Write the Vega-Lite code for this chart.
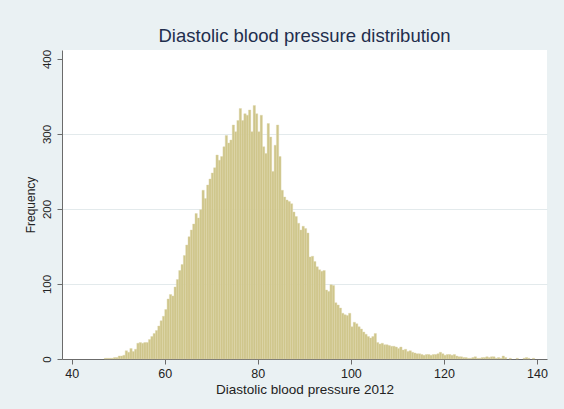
{
  "$schema": "https://vega.github.io/schema/vega-lite/v6.json",
  "width": 485,
  "height": 309,
  "autosize": {"type": "none"},
  "padding": {"left": 62, "top": 50, "right": 17, "bottom": 50},
  "background": "#EAF1F3",
  "title": {
    "text": "Diastolic blood pressure distribution",
    "font": "Liberation Sans",
    "fontSize": 18.5,
    "fontWeight": "normal",
    "color": "#1F2E4D",
    "anchor": "middle",
    "offset": 4
  },
  "config": {
    "view": {"fill": "white", "stroke": null},
    "axis": {
      "labelFont": "Liberation Sans",
      "titleFont": "Liberation Sans",
      "labelFontSize": 12.5,
      "titleFontSize": 13.5,
      "titleFontWeight": "normal",
      "labelColor": "#222222",
      "titleColor": "#222222",
      "domainColor": "#6B6B6B",
      "tickColor": "#6B6B6B",
      "tickSize": 5,
      "labelFlush": false
    }
  },
  "data": {
    "values": [
      {"bin_start": 47.0, "bin_end": 47.5, "count": 1},
      {"bin_start": 47.5, "bin_end": 48.0, "count": 1},
      {"bin_start": 48.0, "bin_end": 48.5, "count": 1},
      {"bin_start": 48.5, "bin_end": 49.0, "count": 1},
      {"bin_start": 49.0, "bin_end": 49.5, "count": 2},
      {"bin_start": 49.5, "bin_end": 50.0, "count": 2},
      {"bin_start": 50.0, "bin_end": 50.5, "count": 4},
      {"bin_start": 50.5, "bin_end": 51.0, "count": 4},
      {"bin_start": 51.0, "bin_end": 51.5, "count": 5},
      {"bin_start": 51.5, "bin_end": 52.0, "count": 11},
      {"bin_start": 52.0, "bin_end": 52.5, "count": 9},
      {"bin_start": 52.5, "bin_end": 53.0, "count": 14},
      {"bin_start": 53.0, "bin_end": 53.5, "count": 10},
      {"bin_start": 53.5, "bin_end": 54.0, "count": 13},
      {"bin_start": 54.0, "bin_end": 54.5, "count": 21},
      {"bin_start": 54.5, "bin_end": 55.0, "count": 22},
      {"bin_start": 55.0, "bin_end": 55.5, "count": 21},
      {"bin_start": 55.5, "bin_end": 56.0, "count": 22},
      {"bin_start": 56.0, "bin_end": 56.5, "count": 22},
      {"bin_start": 56.5, "bin_end": 57.0, "count": 26},
      {"bin_start": 57.0, "bin_end": 57.5, "count": 30},
      {"bin_start": 57.5, "bin_end": 58.0, "count": 34},
      {"bin_start": 58.0, "bin_end": 58.5, "count": 38},
      {"bin_start": 58.5, "bin_end": 59.0, "count": 44},
      {"bin_start": 59.0, "bin_end": 59.5, "count": 51},
      {"bin_start": 59.5, "bin_end": 60.0, "count": 57},
      {"bin_start": 60.0, "bin_end": 60.5, "count": 66},
      {"bin_start": 60.5, "bin_end": 61.0, "count": 80},
      {"bin_start": 61.0, "bin_end": 61.5, "count": 86},
      {"bin_start": 61.5, "bin_end": 62.0, "count": 84},
      {"bin_start": 62.0, "bin_end": 62.5, "count": 96},
      {"bin_start": 62.5, "bin_end": 63.0, "count": 106},
      {"bin_start": 63.0, "bin_end": 63.5, "count": 118},
      {"bin_start": 63.5, "bin_end": 64.0, "count": 126},
      {"bin_start": 64.0, "bin_end": 64.5, "count": 138},
      {"bin_start": 64.5, "bin_end": 65.0, "count": 152},
      {"bin_start": 65.0, "bin_end": 65.5, "count": 163},
      {"bin_start": 65.5, "bin_end": 66.0, "count": 172},
      {"bin_start": 66.0, "bin_end": 66.5, "count": 180},
      {"bin_start": 66.5, "bin_end": 67.0, "count": 194},
      {"bin_start": 67.0, "bin_end": 67.5, "count": 188},
      {"bin_start": 67.5, "bin_end": 68.0, "count": 199},
      {"bin_start": 68.0, "bin_end": 68.5, "count": 225},
      {"bin_start": 68.5, "bin_end": 69.0, "count": 214},
      {"bin_start": 69.0, "bin_end": 69.5, "count": 232},
      {"bin_start": 69.5, "bin_end": 70.0, "count": 240},
      {"bin_start": 70.0, "bin_end": 70.5, "count": 248},
      {"bin_start": 70.5, "bin_end": 71.0, "count": 255},
      {"bin_start": 71.0, "bin_end": 71.5, "count": 272},
      {"bin_start": 71.5, "bin_end": 72.0, "count": 265},
      {"bin_start": 72.0, "bin_end": 72.5, "count": 270},
      {"bin_start": 72.5, "bin_end": 73.0, "count": 283},
      {"bin_start": 73.0, "bin_end": 73.5, "count": 298},
      {"bin_start": 73.5, "bin_end": 74.0, "count": 288},
      {"bin_start": 74.0, "bin_end": 74.5, "count": 292},
      {"bin_start": 74.5, "bin_end": 75.0, "count": 312},
      {"bin_start": 75.0, "bin_end": 75.5, "count": 303},
      {"bin_start": 75.5, "bin_end": 76.0, "count": 318},
      {"bin_start": 76.0, "bin_end": 76.5, "count": 334},
      {"bin_start": 76.5, "bin_end": 77.0, "count": 318},
      {"bin_start": 77.0, "bin_end": 77.5, "count": 327},
      {"bin_start": 77.5, "bin_end": 78.0, "count": 325},
      {"bin_start": 78.0, "bin_end": 78.5, "count": 332},
      {"bin_start": 78.5, "bin_end": 79.0, "count": 303},
      {"bin_start": 79.0, "bin_end": 79.5, "count": 338},
      {"bin_start": 79.5, "bin_end": 80.0, "count": 327},
      {"bin_start": 80.0, "bin_end": 80.5, "count": 303},
      {"bin_start": 80.5, "bin_end": 81.0, "count": 325},
      {"bin_start": 81.0, "bin_end": 81.5, "count": 283},
      {"bin_start": 81.5, "bin_end": 82.0, "count": 274},
      {"bin_start": 82.0, "bin_end": 82.5, "count": 314},
      {"bin_start": 82.5, "bin_end": 83.0, "count": 296},
      {"bin_start": 83.0, "bin_end": 83.5, "count": 250},
      {"bin_start": 83.5, "bin_end": 84.0, "count": 285},
      {"bin_start": 84.0, "bin_end": 84.5, "count": 312},
      {"bin_start": 84.5, "bin_end": 85.0, "count": 270},
      {"bin_start": 85.0, "bin_end": 85.5, "count": 225},
      {"bin_start": 85.5, "bin_end": 86.0, "count": 216},
      {"bin_start": 86.0, "bin_end": 86.5, "count": 212},
      {"bin_start": 86.5, "bin_end": 87.0, "count": 210},
      {"bin_start": 87.0, "bin_end": 87.5, "count": 207},
      {"bin_start": 87.5, "bin_end": 88.0, "count": 196},
      {"bin_start": 88.0, "bin_end": 88.5, "count": 190},
      {"bin_start": 88.5, "bin_end": 89.0, "count": 181},
      {"bin_start": 89.0, "bin_end": 89.5, "count": 172},
      {"bin_start": 89.5, "bin_end": 90.0, "count": 177},
      {"bin_start": 90.0, "bin_end": 90.5, "count": 174},
      {"bin_start": 90.5, "bin_end": 91.0, "count": 168},
      {"bin_start": 91.0, "bin_end": 91.5, "count": 136},
      {"bin_start": 91.5, "bin_end": 92.0, "count": 137},
      {"bin_start": 92.0, "bin_end": 92.5, "count": 130},
      {"bin_start": 92.5, "bin_end": 93.0, "count": 123},
      {"bin_start": 93.0, "bin_end": 93.5, "count": 119},
      {"bin_start": 93.5, "bin_end": 94.0, "count": 117},
      {"bin_start": 94.0, "bin_end": 94.5, "count": 118},
      {"bin_start": 94.5, "bin_end": 95.0, "count": 92},
      {"bin_start": 95.0, "bin_end": 95.5, "count": 90},
      {"bin_start": 95.5, "bin_end": 96.0, "count": 99},
      {"bin_start": 96.0, "bin_end": 96.5, "count": 98},
      {"bin_start": 96.5, "bin_end": 97.0, "count": 75},
      {"bin_start": 97.0, "bin_end": 97.5, "count": 72},
      {"bin_start": 97.5, "bin_end": 98.0, "count": 68},
      {"bin_start": 98.0, "bin_end": 98.5, "count": 61},
      {"bin_start": 98.5, "bin_end": 99.0, "count": 59},
      {"bin_start": 99.0, "bin_end": 99.5, "count": 58},
      {"bin_start": 99.5, "bin_end": 100.0, "count": 61},
      {"bin_start": 100.0, "bin_end": 100.5, "count": 43},
      {"bin_start": 100.5, "bin_end": 101.0, "count": 49},
      {"bin_start": 101.0, "bin_end": 101.5, "count": 47},
      {"bin_start": 101.5, "bin_end": 102.0, "count": 43},
      {"bin_start": 102.0, "bin_end": 102.5, "count": 40},
      {"bin_start": 102.5, "bin_end": 103.0, "count": 36},
      {"bin_start": 103.0, "bin_end": 103.5, "count": 33},
      {"bin_start": 103.5, "bin_end": 104.0, "count": 30},
      {"bin_start": 104.0, "bin_end": 104.5, "count": 28},
      {"bin_start": 104.5, "bin_end": 105.0, "count": 30},
      {"bin_start": 105.0, "bin_end": 105.5, "count": 34},
      {"bin_start": 105.5, "bin_end": 106.0, "count": 22},
      {"bin_start": 106.0, "bin_end": 106.5, "count": 20},
      {"bin_start": 106.5, "bin_end": 107.0, "count": 21},
      {"bin_start": 107.0, "bin_end": 107.5, "count": 19},
      {"bin_start": 107.5, "bin_end": 108.0, "count": 19},
      {"bin_start": 108.0, "bin_end": 108.5, "count": 18},
      {"bin_start": 108.5, "bin_end": 109.0, "count": 17},
      {"bin_start": 109.0, "bin_end": 109.5, "count": 17},
      {"bin_start": 109.5, "bin_end": 110.0, "count": 16},
      {"bin_start": 110.0, "bin_end": 110.5, "count": 14},
      {"bin_start": 110.5, "bin_end": 111.0, "count": 16},
      {"bin_start": 111.0, "bin_end": 111.5, "count": 12},
      {"bin_start": 111.5, "bin_end": 112.0, "count": 13},
      {"bin_start": 112.0, "bin_end": 112.5, "count": 10},
      {"bin_start": 112.5, "bin_end": 113.0, "count": 11},
      {"bin_start": 113.0, "bin_end": 113.5, "count": 9},
      {"bin_start": 113.5, "bin_end": 114.0, "count": 8},
      {"bin_start": 114.0, "bin_end": 114.5, "count": 7},
      {"bin_start": 114.5, "bin_end": 115.0, "count": 7},
      {"bin_start": 115.0, "bin_end": 115.5, "count": 6},
      {"bin_start": 115.5, "bin_end": 116.0, "count": 5},
      {"bin_start": 116.0, "bin_end": 116.5, "count": 6},
      {"bin_start": 116.5, "bin_end": 117.0, "count": 6},
      {"bin_start": 117.0, "bin_end": 117.5, "count": 5},
      {"bin_start": 117.5, "bin_end": 118.0, "count": 6},
      {"bin_start": 118.0, "bin_end": 118.5, "count": 6},
      {"bin_start": 118.5, "bin_end": 119.0, "count": 7},
      {"bin_start": 119.0, "bin_end": 119.5, "count": 9},
      {"bin_start": 119.5, "bin_end": 120.0, "count": 7},
      {"bin_start": 120.0, "bin_end": 120.5, "count": 5},
      {"bin_start": 120.5, "bin_end": 121.0, "count": 6},
      {"bin_start": 121.0, "bin_end": 121.5, "count": 6},
      {"bin_start": 121.5, "bin_end": 122.0, "count": 5},
      {"bin_start": 122.0, "bin_end": 122.5, "count": 6},
      {"bin_start": 122.5, "bin_end": 123.0, "count": 4},
      {"bin_start": 123.0, "bin_end": 123.5, "count": 3},
      {"bin_start": 123.5, "bin_end": 124.0, "count": 3},
      {"bin_start": 124.0, "bin_end": 124.5, "count": 2},
      {"bin_start": 124.5, "bin_end": 125.0, "count": 2},
      {"bin_start": 125.0, "bin_end": 125.5, "count": 1},
      {"bin_start": 125.5, "bin_end": 126.0, "count": 1},
      {"bin_start": 126.0, "bin_end": 126.5, "count": 2},
      {"bin_start": 126.5, "bin_end": 127.0, "count": 3},
      {"bin_start": 127.0, "bin_end": 127.5, "count": 1},
      {"bin_start": 127.5, "bin_end": 128.0, "count": 1},
      {"bin_start": 128.0, "bin_end": 128.5, "count": 2},
      {"bin_start": 128.5, "bin_end": 129.0, "count": 2},
      {"bin_start": 129.0, "bin_end": 129.5, "count": 3},
      {"bin_start": 129.5, "bin_end": 130.0, "count": 2},
      {"bin_start": 130.0, "bin_end": 130.5, "count": 3},
      {"bin_start": 130.5, "bin_end": 131.0, "count": 3},
      {"bin_start": 131.0, "bin_end": 131.5, "count": 1},
      {"bin_start": 131.5, "bin_end": 132.0, "count": 2},
      {"bin_start": 132.0, "bin_end": 132.5, "count": 1},
      {"bin_start": 132.5, "bin_end": 133.0, "count": 4},
      {"bin_start": 133.0, "bin_end": 133.5, "count": 2},
      {"bin_start": 134.0, "bin_end": 134.5, "count": 1},
      {"bin_start": 135.5, "bin_end": 136.0, "count": 1},
      {"bin_start": 137.0, "bin_end": 137.5, "count": 1},
      {"bin_start": 137.5, "bin_end": 138.0, "count": 2},
      {"bin_start": 138.0, "bin_end": 138.5, "count": 1},
      {"bin_start": 139.0, "bin_end": 139.5, "count": 1}
    ]
  },
  "mark": {
    "type": "bar",
    "fill": "#CFC68B",
    "stroke": "#DDD7AB",
    "strokeWidth": 0.4
  },
  "encoding": {
    "x": {
      "field": "bin_start",
      "type": "quantitative",
      "scale": {"domain": [37.92, 142.15], "nice": false, "zero": false},
      "axis": {
        "title": "Diastolic blood pressure 2012",
        "values": [40, 60, 80, 100, 120, 140],
        "grid": false,
        "labelPadding": 3,
        "titleY": 30,
        "titleBaseline": "middle"
      }
    },
    "x2": {"field": "bin_end"},
    "y": {
      "field": "count",
      "type": "quantitative",
      "scale": {"domain": [0, 412], "nice": false},
      "axis": {
        "title": "Frequency",
        "values": [0, 100, 200, 300, 400],
        "grid": true,
        "gridColor": {
          "condition": {"test": "datum.value === 0 || datum.value === 400", "value": "transparent"},
          "value": "#E3EAEC"
        },
        "labelFontSize": 11.5,
        "titleFontSize": 12,
        "labelAngle": 270,
        "labelAlign": "center",
        "labelBaseline": "bottom",
        "labelPadding": 5,
        "titleX": -32,
        "titleY": 154.5,
        "titleAngle": 270,
        "titleAlign": "center",
        "titleBaseline": "middle"
      }
    },
    "y2": {"datum": 0}
  }
}
